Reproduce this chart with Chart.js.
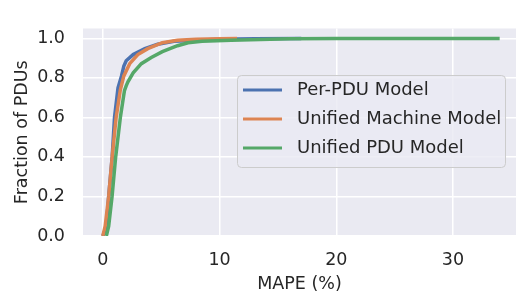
<!DOCTYPE html>
<html>
<head>
<meta charset="utf-8">
<script src="https://cdn.jsdelivr.net/npm/chart.js@4/dist/chart.umd.min.js"></script>
<style>
    html, body { margin: 0; padding: 0; background: #fff; overflow: hidden; }
</style>
</head>
<body>
<canvas id="cdfChart" width="516" height="295"></canvas>
<script>
// CDF curves: MAPE (%) and fraction of PDUs at that point
const perPduX = [0.0, 0.3, 0.5, 0.8, 1.0, 1.3, 1.6, 1.8, 2.0, 2.6, 3.6, 4.7, 6.1, 8.0, 10.0, 13.0, 17.0];
const perPduY = [0.0, 0.05, 0.2, 0.4, 0.6, 0.75, 0.81, 0.86, 0.887, 0.918, 0.948, 0.97, 0.985, 0.99, 0.995, 0.998, 1.0];

const machineX = [0.0, 0.2, 0.5, 0.8, 1.14, 1.5, 1.8, 2.3, 3.0, 3.85, 5.1, 6.4, 8.0, 10.0, 11.5];
const machineY = [0.0, 0.05, 0.2, 0.4, 0.6, 0.74, 0.81, 0.872, 0.918, 0.948, 0.978, 0.99, 0.995, 0.998, 1.0];

const unifiedX = [0.3, 0.5, 0.79, 1.1, 1.5, 1.85, 2.0, 2.15, 2.6, 3.3, 4.15, 5.1, 6.4, 7.3, 8.5, 11.0, 16.0, 20.0, 34.0];
const unifiedY = [0.0, 0.05, 0.2, 0.4, 0.6, 0.735, 0.76, 0.78, 0.826, 0.872, 0.903, 0.933, 0.963, 0.978, 0.986, 0.99, 0.998, 0.999, 1.0];

const seriesNames = ["Per-PDU Model", "Unified Machine Model", "Unified PDU Model"];
const seriesColors = ["#4c72b0", "#dd8452", "#55a868"];

const xTicks = [0, 10, 20, 30];
const yTicks = [0, 0.2, 0.4, 0.6, 0.8, 1.0];

const FONT = "'DejaVu Sans', sans-serif";
const TEXT = "#262626";

function toPoints(xs, ys) {
    return xs.map((x, i) => ({ x: x, y: ys[i] }));
}

const plotBackground = {
    id: "plotBackground",
    beforeDraw(chart) {
        const { ctx, chartArea } = chart;
        ctx.save();
        ctx.fillStyle = "#eaeaf2";
        ctx.fillRect(chartArea.left, chartArea.top, chartArea.right - chartArea.left, chartArea.bottom - chartArea.top);
        ctx.restore();
    },
};

// matplotlib style legend box sitting inside the plot
const boxLegend = {
    id: "boxLegend",
    afterDatasetsDraw(chart) {
        const ctx = chart.ctx;
        const x = 237, y = 75, w = 268, h = 92, r = 4;
        ctx.save();
        ctx.beginPath();
        ctx.roundRect(x + 0.5, y + 0.5, w, h, r);
        ctx.fillStyle = "rgba(234,234,242,0.8)";
        ctx.fill();
        ctx.strokeStyle = "#cccccc";
        ctx.lineWidth = 1;
        ctx.stroke();
        ctx.font = "18px " + FONT;
        ctx.textBaseline = "middle";
        seriesNames.forEach((name, i) => {
            const rowY = 90 + i * 29;
            ctx.beginPath();
            ctx.moveTo(243, rowY);
            ctx.lineTo(282, rowY);
            ctx.strokeStyle = seriesColors[i];
            ctx.lineWidth = 3;
            ctx.stroke();
            ctx.fillStyle = TEXT;
            ctx.fillText(name, 297, rowY);
        });
        ctx.restore();
    },
};

const ctx = document.getElementById("cdfChart").getContext("2d");
const cdfChart = new Chart(ctx, {
    type: "line",
    data: {
        datasets: [
            { label: seriesNames[0], data: toPoints(perPduX, perPduY), borderColor: seriesColors[0], order: 2 },
            { label: seriesNames[1], data: toPoints(machineX, machineY), borderColor: seriesColors[1], order: 1 },
            { label: seriesNames[2], data: toPoints(unifiedX, unifiedY), borderColor: seriesColors[2], order: 0 },
        ],
    },
    options: {
        responsive: false,
        animation: false,
        devicePixelRatio: 1,
        layout: { padding: { top: 7, left: 0, right: 0, bottom: 0 } },
        elements: {
            line: { borderWidth: 3.5, tension: 0, fill: false },
            point: { radius: 0 },
        },
        plugins: {
            legend: { display: false },
            tooltip: { enabled: false },
        },
        scales: {
            x: {
                type: "linear",
                min: -1.7,
                max: 35.4,
                afterBuildTicks: (scale) => {
                    scale.ticks = xTicks.map((v) => ({ value: v }));
                },
                afterFit: (scale) => {
                    scale.height = 59;
                },
                grid: { color: "#ffffff", lineWidth: 1.5, drawTicks: false },
                border: { display: false },
                ticks: { color: TEXT, font: { family: FONT, size: 17.5 }, padding: 14, maxRotation: 0 },
                title: { display: true, text: "MAPE (%)", color: TEXT, font: { family: FONT, size: 17.5 }, padding: { top: 0, bottom: 0 } },
            },
            y: {
                type: "linear",
                min: 0,
                max: 1.05,
                afterBuildTicks: (scale) => {
                    scale.ticks = yTicks.map((v) => ({ value: v }));
                },
                afterFit: (scale) => {
                    scale.width = 83;
                },
                grid: { color: "#ffffff", lineWidth: 1.5, drawTicks: false },
                border: { display: false },
                ticks: {
                    color: TEXT,
                    font: { family: FONT, size: 17.5 },
                    padding: 18,
                    callback: (v) => Number(v).toFixed(1),
                },
                title: { display: true, text: "Fraction of PDUs", color: TEXT, font: { family: FONT, size: 17.5 }, padding: { top: 12, bottom: 0 } },
            },
        },
    },
    plugins: [plotBackground, boxLegend],
});
</script>
</body>
</html>
